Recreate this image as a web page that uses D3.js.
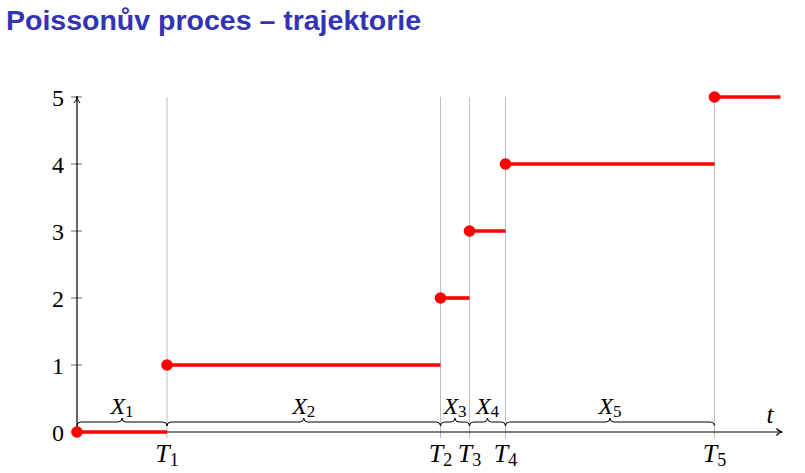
<!DOCTYPE html>
<html><head><meta charset="utf-8">
<script src="https://cdn.jsdelivr.net/npm/d3@7"></script>
<style>
body{margin:0;background:#fff;}
svg{display:block;}
</style></head>
<body><svg id="c" width="805" height="473"></svg>
<script>
const title = "Poissonův proces – trajektorie";
const jumpTimes = [0, 0.90, 3.635, 3.925, 4.285, 6.375];
const counts = [0, 1, 2, 3, 4, 5];
const tEnd = 7.035;
const yTicks = [0, 1, 2, 3, 4, 5];
const tLabels = ["T1", "T2", "T3", "T4", "T5"];
const xLabels = ["X1", "X2", "X3", "X4", "X5"];

const svg = d3.select("#c");
const x = d3.scaleLinear().domain([0, tEnd]).range([77, 780.5]);
const y = d3.scaleLinear().domain([0, 5]).range([432, 97]);
const serif = "'Liberation Serif','DejaVu Serif',serif";

svg.append("text").attr("x", 6).attr("y", 30)
  .attr("font-family", "'Liberation Sans',Arial,sans-serif").attr("font-weight", "bold")
  .attr("font-size", 28.5).attr("fill", "#3333b3").text(title);

// gray vertical lines
svg.selectAll(".vl").data(jumpTimes.slice(1)).enter().append("line")
  .attr("x1", d => x(d)).attr("x2", d => x(d))
  .attr("y1", y(5)).attr("y2", y(0) + 6)
  .attr("stroke", "#bdbdbd").attr("stroke-width", 1);

// y ticks
svg.selectAll(".yt").data(yTicks).enter().append("line")
  .attr("x1", x(0) - 6).attr("x2", x(0) + 5)
  .attr("y1", d => y(d)).attr("y2", d => y(d))
  .attr("stroke", "#666").attr("stroke-width", 1);
svg.selectAll(".ytl").data(yTicks).enter().append("text")
  .attr("x", x(0) - 13).attr("y", d => y(d) + 8.5)
  .attr("text-anchor", "end").attr("font-family", serif).attr("font-size", 24)
  .text(d => d);

// axes
svg.append("line").attr("x1", x(0)).attr("x2", x(0)).attr("y1", y(0)).attr("y2", y(5) + 1)
  .attr("stroke", "#000").attr("stroke-width", 1.2);
svg.append("path").attr("d", `M${x(0)-3},${y(5)+6} Q${x(0)},${y(5)+3} ${x(0)},${y(5)-1} Q${x(0)},${y(5)+3} ${x(0)+3},${y(5)+6}`)
  .attr("fill", "none").attr("stroke", "#000").attr("stroke-width", 1);
svg.append("line").attr("x1", x(0)).attr("x2", x(tEnd) + 1).attr("y1", y(0)).attr("y2", y(0))
  .attr("stroke", "#000").attr("stroke-width", 1.2);
const ax = x(tEnd) + 2, ay = y(0);
svg.append("path").attr("d", `M${ax-6},${ay-3.5} Q${ax-3},${ay} ${ax},${ay} Q${ax-3},${ay} ${ax-6},${ay+3.5}`)
  .attr("fill", "none").attr("stroke", "#000").attr("stroke-width", 1.2);
svg.append("text").attr("x", x(tEnd) - 14).attr("y", y(0) - 9)
  .attr("font-family", serif).attr("font-style", "italic").attr("font-size", 25).text("t");

// braces
const by = y(0) - 10;
const braces = d3.range(5).map(i => ({a: x(jumpTimes[i]), b: x(jumpTimes[i + 1]), lab: xLabels[i]}));
svg.selectAll(".br").data(braces).enter().append("path")
  .attr("d", d => {
    const m = (d.a + d.b) / 2, r = Math.min(4, (d.b - d.a) / 4);
    return `M${d.a},${by+4} Q${d.a},${by} ${d.a+r},${by} L${m-r},${by} Q${m},${by} ${m},${by-4} Q${m},${by} ${m+r},${by} L${d.b-r},${by} Q${d.b},${by} ${d.b},${by+4}`;
  })
  .attr("fill", "none").attr("stroke", "#000").attr("stroke-width", 1);
const xl = svg.selectAll(".bl").data(braces).enter().append("text")
  .attr("x", d => (d.a + d.b) / 2).attr("y", by - 8)
  .attr("text-anchor", "middle").attr("font-family", serif).attr("font-size", 24);
xl.append("tspan").attr("font-style", "italic").text(d => d.lab[0]);
xl.append("tspan").attr("font-size", 17).attr("dy", 3).text(d => d.lab.slice(1));

// T labels
const tl = svg.selectAll(".tl").data(jumpTimes.slice(1)).enter().append("text")
  .attr("x", d => x(d)).attr("y", y(0) + 30)
  .attr("text-anchor", "middle").attr("font-family", serif).attr("font-size", 26);
tl.append("tspan").attr("font-style", "italic").text((d, i) => tLabels[i][0]);
tl.append("tspan").attr("font-size", 18).attr("dy", 4).text((d, i) => tLabels[i].slice(1));

// trajectory
const segs = counts.map((c, i) => ({c, a: jumpTimes[i], b: i + 1 < jumpTimes.length ? jumpTimes[i + 1] : tEnd}));
svg.selectAll(".seg").data(segs).enter().append("line")
  .attr("x1", d => x(d.a)).attr("x2", d => x(d.b))
  .attr("y1", d => y(d.c)).attr("y2", d => y(d.c))
  .attr("stroke", "#ff0000").attr("stroke-width", 3.6);
svg.selectAll(".dot").data(segs).enter().append("circle")
  .attr("cx", d => x(d.a)).attr("cy", d => y(d.c)).attr("r", 5.8)
  .attr("fill", "#ff0000");
</script></body></html>
